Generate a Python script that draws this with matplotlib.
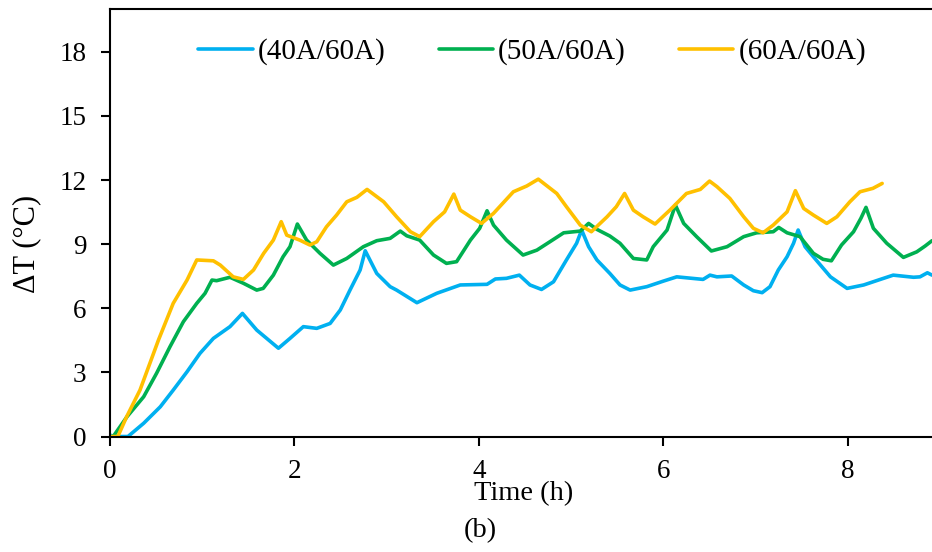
import matplotlib
matplotlib.use("Agg")
import matplotlib.pyplot as plt

plt.rcParams['font.family'] = ['Liberation Serif', 'DejaVu Serif']

# (40A/60A)
t40 = [0.0, 0.06, 0.20, 0.37, 0.55, 0.69, 0.84, 0.98, 1.125, 1.305, 1.44, 1.595, 1.83,
       1.955, 2.10, 2.245, 2.39, 2.50, 2.605, 2.715, 2.77, 2.895, 3.04, 3.11, 3.33, 3.545,
       3.80, 4.09, 4.18, 4.30, 4.44, 4.555, 4.68, 4.81, 4.95, 5.06, 5.115, 5.19, 5.28,
       5.42, 5.53, 5.64, 5.82, 6.00, 6.145, 6.43, 6.505, 6.58, 6.74, 6.87, 6.975, 7.07,
       7.155, 7.245, 7.34, 7.41, 7.46, 7.535, 7.625, 7.81, 7.99, 8.17, 8.35, 8.49, 8.71,
       8.78, 8.86, 8.91]
dT40 = [0.07, 0.0, 0.0, 0.62, 1.39, 2.17, 3.03, 3.89, 4.59, 5.14, 5.76, 4.98, 4.13,
        4.59, 5.14, 5.06, 5.29, 5.92, 6.85, 7.79, 8.69, 7.63, 7.01, 6.85, 6.26, 6.70,
        7.09, 7.12, 7.37, 7.40, 7.55, 7.09, 6.88, 7.24, 8.26, 9.04, 9.66, 8.88, 8.26,
        7.63, 7.09, 6.85, 7.01, 7.27, 7.47, 7.35, 7.55, 7.47, 7.51, 7.09, 6.82, 6.73,
        7.01, 7.79, 8.41, 9.04, 9.66, 8.88, 8.41, 7.47, 6.93, 7.09, 7.35, 7.55, 7.45,
        7.47, 7.66, 7.55]

# (50A/60A)
t50 = [0.0, 0.04, 0.19, 0.37, 0.51, 0.655, 0.80, 0.945, 1.035, 1.11, 1.16, 1.305, 1.45,
       1.595, 1.665, 1.775, 1.88, 1.955, 2.035, 2.135, 2.28, 2.425, 2.57, 2.75, 2.895,
       3.04, 3.15, 3.22, 3.36, 3.51, 3.65, 3.76, 3.91, 4.01, 4.09, 4.16, 4.30, 4.48,
       4.63, 4.77, 4.92, 5.10, 5.19, 5.28, 5.42, 5.53, 5.675, 5.82, 5.89, 6.04, 6.13,
       6.22, 6.36, 6.52, 6.69, 6.87, 7.01, 7.19, 7.25, 7.34, 7.48, 7.625, 7.73, 7.82,
       7.93, 8.06, 8.14, 8.195, 8.275, 8.42, 8.60, 8.745, 8.835, 8.91]
dT50 = [0.0, 0.0, 0.93, 1.86, 2.96, 4.20, 5.37, 6.23, 6.70, 7.32, 7.29, 7.45, 7.17,
        6.85, 6.93, 7.55, 8.41, 8.88, 9.94, 9.19, 8.57, 8.02, 8.33, 8.88, 9.16,
        9.27, 9.61, 9.39, 9.19, 8.49, 8.10, 8.18, 9.19, 9.74, 10.56, 9.89, 9.19, 8.49,
        8.72, 9.11, 9.53, 9.61, 9.97, 9.69, 9.38, 9.04, 8.33, 8.26, 8.88, 9.66, 10.83,
        9.97, 9.35, 8.68, 8.88, 9.35, 9.53, 9.58, 9.78, 9.53, 9.35, 8.57, 8.29, 8.22,
        8.96, 9.58, 10.21, 10.72, 9.74, 9.04, 8.38, 8.64, 8.91, 9.16]

# (60A/60A)
t60 = [0.0, 0.09, 0.186, 0.33, 0.53, 0.69, 0.84, 0.945, 1.125, 1.20, 1.34, 1.45, 1.56,
       1.67, 1.775, 1.86, 1.92, 2.06, 2.17, 2.245, 2.35, 2.46, 2.57, 2.68, 2.79, 2.97,
       3.11, 3.26, 3.36, 3.51, 3.63, 3.73, 3.80, 3.91, 4.03, 4.16, 4.375, 4.52, 4.645,
       4.845, 4.95, 5.10, 5.22, 5.39, 5.49, 5.58, 5.675, 5.78, 5.91, 6.07, 6.25, 6.40,
       6.50, 6.58, 6.72, 6.87, 6.975, 7.08, 7.19, 7.34, 7.43, 7.52, 7.625, 7.77, 7.88,
       8.02, 8.13, 8.27, 8.37]
dT60 = [0.0, 0.0, 0.93, 2.17, 4.51, 6.23, 7.32, 8.26, 8.22, 8.02, 7.47, 7.35, 7.79,
        8.57, 9.19, 10.05, 9.42, 9.19, 8.96, 9.11, 9.81, 10.36, 10.98, 11.19, 11.56, 10.98,
        10.28, 9.58, 9.35, 10.05, 10.51, 11.34, 10.59, 10.28, 9.97, 10.44, 11.45, 11.72, 12.04,
        11.37, 10.75, 9.89, 9.58, 10.28, 10.75, 11.37, 10.59, 10.28, 9.94, 10.59, 11.37, 11.56,
        11.95, 11.69, 11.14, 10.28, 9.74, 9.53, 9.89, 10.51, 11.50, 10.67, 10.36, 9.97, 10.28,
        10.98, 11.45, 11.61, 11.84]

labels = ['(40A/60A)', '(50A/60A)', '(60A/60A)']
colors = ['#00B0F0', '#00B050', '#FFC000']
yticks = [0, 3, 6, 9, 12, 15, 18]
xticks = [0, 2, 4, 6, 8]

fig = plt.figure(figsize=(9.32, 5.52), dpi=100)
ax = fig.add_axes([0.1175, 0.2092, 0.8825, 0.7745])

for t, d, lab, c in zip([t40, t50, t60], [dT40, dT50, dT60], labels, colors):
    ax.plot(t, d, color=c, lw=2.6, label=lab, solid_joinstyle='round',
            solid_capstyle='round')

ax.set_xlim(0, 8.91)
ax.set_ylim(0, 20)
ax.set_xticks(xticks)
ax.set_yticks(yticks)
ax.spines['right'].set_visible(False)
for s in ['left', 'bottom', 'top']:
    ax.spines[s].set_linewidth(1.5)
ax.tick_params(direction='out', length=6.5, width=1.5, labelsize=19.5, pad=10)

# axis titles placed by hand, like in the source figure
fig.text(0.029, 1 - 243.5 / 552, 'ΔT (°C)', fontsize=22, rotation=90,
         ha='center', va='center')
fig.text(0.562, 1 - 494 / 552, 'Time (h)', fontsize=20.5, ha='center', va='center')
fig.text(0.515, 1 - 531 / 552, '(b)', fontsize=20.5, ha='center', va='center')

fig.legend(loc='center', bbox_to_anchor=(0.571, 0.906), ncol=3, frameon=False,
           fontsize=21, handlelength=1.86, handletextpad=0.17, columnspacing=1.83)

plt.savefig('out.png', dpi=100)
